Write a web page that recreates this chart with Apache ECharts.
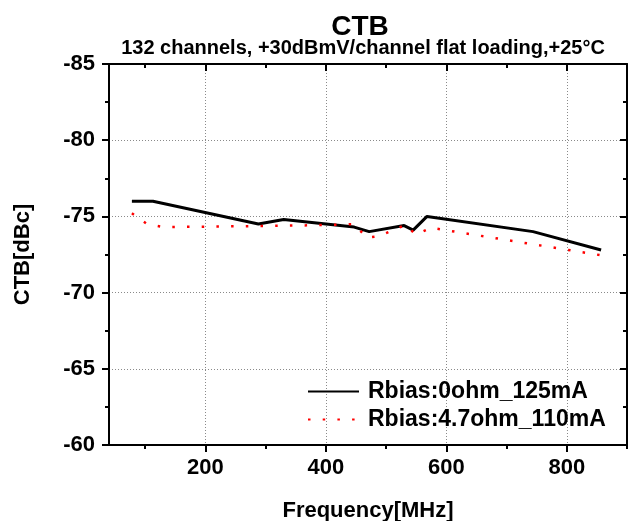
<!DOCTYPE html>
<html>
<head>
<meta charset="utf-8">
<script src="https://cdn.jsdelivr.net/npm/echarts@6/dist/echarts.min.js"></script>
<style>
html,body{margin:0;padding:0;background:#fff;}
#c{width:637px;height:521px;}
</style>
</head>
<body>
<div id="c"></div>
<script>
// ---- data ----
const seriesNames = ['Rbias:0ohm_125mA', 'Rbias:4.7ohm_110mA'];
const freqA = [78, 113, 288, 330, 447, 472, 530, 545, 568, 744, 857];
const ctbA  = [-76.0, -76.0, -74.5, -74.8, -74.3, -74.0, -74.4, -74.1, -75.0, -74.0, -72.8];
const freqB = [78, 103, 130, 250, 350, 420, 447, 468, 488, 533, 549, 575, 857];
const ctbB  = [-75.2, -74.5, -74.3, -74.35, -74.4, -74.45, -74.5, -73.6, -73.7, -74.45, -73.8, -74.25, -72.45];
const xMajorTicks = [200, 400, 600, 800];
const xMinorTicks = [100, 300, 500, 700, 900];
const titleText = 'CTB';
const subtitleText = '132 channels, +30dBmV/channel flat loading,+25°C';
const xName = 'Frequency[MHz]';
const yName = 'CTB[dBc]';

// ---- chart ----
const FONT = '"Liberation Sans", Arial, sans-serif';
const chart = echarts.init(document.getElementById('c'), null, {renderer: 'canvas'});
const pairs = (xs, ys) => xs.map((x, i) => [x, ys[i]]);
const xBase = {type: 'value', min: 40, max: 900, gridIndex: 0};
const axisLineStyle = {lineStyle: {color: '#000', width: 2}};
const gridLine = {show: true, lineStyle: {color: '#8a8a8a', width: 1, type: [1, 2]}};

const option = {
  backgroundColor: '#fff',
  animation: false,
  title: [
    {text: titleText, left: 360, top: 27, padding: 0, textAlign: 'center', textVerticalAlign: 'middle',
     textStyle: {fontFamily: FONT, fontSize: 28, fontWeight: 'bold', color: '#000'}},
    {text: subtitleText, left: 363, top: 48, padding: 0, textAlign: 'center', textVerticalAlign: 'middle',
     textStyle: {fontFamily: FONT, fontSize: 20, fontWeight: 'bold', color: '#000'}}
  ],
  grid: {left: 109, right: 10, top: 64, bottom: 76, containLabel: false, outerBoundsMode: 'none'},
  legend: {
    orient: 'vertical', left: 307, top: 380, padding: 0, itemGap: 5,
    itemWidth: 51, itemHeight: 14,
    itemStyle: {opacity: 0, color: 'transparent', borderWidth: 0},
    textStyle: {fontFamily: FONT, fontSize: 23, fontWeight: 'bold', color: '#000', padding: [0, 0, 0, 4]},
    data: seriesNames
  },
  xAxis: [
    Object.assign({}, xBase, {
      position: 'bottom',
      axisLine: axisLineStyle,
      axisTick: {show: true, customValues: xMajorTicks, length: 7, lineStyle: {color: '#000', width: 2}},
      axisLabel: {customValues: xMajorTicks, fontFamily: FONT, fontSize: 22, fontWeight: 'bold', color: '#000', margin: 12},
      splitLine: gridLine,
      name: xName, nameLocation: 'middle', nameGap: 55,
      nameTextStyle: {fontFamily: FONT, fontSize: 22, fontWeight: 'bold', color: '#000'}
    }),
    Object.assign({}, xBase, {
      position: 'bottom',
      axisLine: {show: false},
      axisTick: {show: true, customValues: xMinorTicks, length: 4, lineStyle: {color: '#000', width: 2}},
      axisLabel: {show: false},
      splitLine: {show: false}
    }),
    Object.assign({}, xBase, {
      position: 'top',
      axisLine: axisLineStyle,
      axisTick: {show: true, inside: true, customValues: xMajorTicks, length: 7, lineStyle: {color: '#000', width: 2}},
      axisLabel: {show: false},
      splitLine: {show: false}
    }),
    Object.assign({}, xBase, {
      position: 'top',
      axisLine: {show: false},
      axisTick: {show: true, inside: true, customValues: xMinorTicks, length: 4, lineStyle: {color: '#000', width: 2}},
      axisLabel: {show: false},
      splitLine: {show: false}
    })
  ],
  yAxis: [
    {
      type: 'value', inverse: true, min: -85, max: -60, interval: 5, position: 'left',
      axisLine: axisLineStyle,
      axisTick: {show: true, length: 7, lineStyle: {color: '#000', width: 2}},
      minorTick: {show: true, splitNumber: 2, length: 4, lineStyle: {color: '#000', width: 2}},
      axisLabel: {fontFamily: FONT, fontSize: 22, fontWeight: 'bold', color: '#000', margin: 14},
      splitLine: gridLine,
      name: yName, nameLocation: 'middle', nameGap: 75,
      nameTextStyle: {fontFamily: FONT, fontSize: 22, fontWeight: 'bold', color: '#000'}
    },
    {
      type: 'value', inverse: true, min: -85, max: -60, interval: 5, position: 'right',
      axisLine: axisLineStyle,
      axisTick: {show: true, inside: true, length: 7, lineStyle: {color: '#000', width: 2}},
      minorTick: {show: true, splitNumber: 2, length: 4, lineStyle: {color: '#000', width: 2}},
      axisLabel: {show: false},
      splitLine: {show: false}
    }
  ],
  series: [
    {
      name: seriesNames[0], type: 'line', xAxisIndex: 0, yAxisIndex: 0,
      data: pairs(freqA, ctbA), symbol: 'none', showSymbol: false,
      lineStyle: {color: '#000', width: 3}, itemStyle: {color: '#000'}
    },
    {
      name: seriesNames[1], type: 'line', xAxisIndex: 0, yAxisIndex: 0,
      data: pairs(freqB, ctbB), symbol: 'none', showSymbol: false,
      lineStyle: {color: '#ff0000', width: 2.5, type: [2.5, 12.2], cap: 'butt'}, itemStyle: {color: '#ff0000'}
    }
  ]
};
chart.setOption(option);
</script>
</body>
</html>
